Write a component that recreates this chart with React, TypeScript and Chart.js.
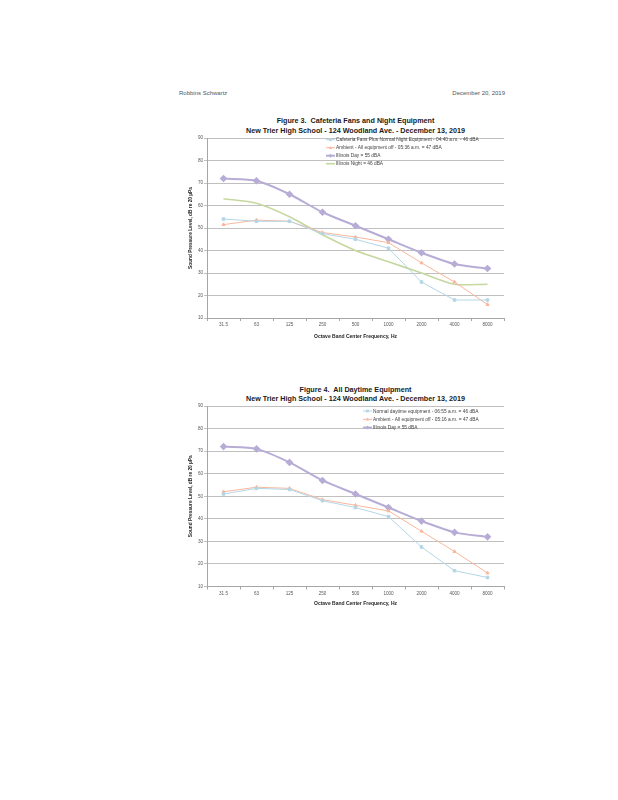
import React, { useEffect, useRef } from "react";
import { Chart, registerables } from "chart.js";

Chart.register(...registerables);

const categories = ["31.5", "63", "125", "250", "500", "1000", "2000", "4000", "8000"];
const yTickValues = [10, 20, 30, 40, 50, 60, 70, 80, 90];

const fig3Cafeteria = [54, 53, 53, 47.5, 45, 41, 26, 18, 18];
const fig3Ambient = [51.5, 53.5, 53, 48, 46, 43.5, 34.5, 26, 16];
const fig3IllinoisDay = [72, 71, 65, 57, 51, 45, 39, 34, 32];
const fig3IllinoisNight = [63, 61, 55, 47, 40, 35, 30, 25, 25];

const fig4Normal = [51, 53.5, 53, 48, 45, 41, 27.5, 17, 14];
const fig4Ambient = [52, 54, 53.5, 48.5, 46, 43.5, 34.5, 25.5, 16];
const fig4IllinoisDay = [72, 71, 65, 57, 51, 45, 39, 34, 32];

const fig3Labels = [
  "Cafeteria Fans Plus Normal Night Equipment - 04:40 a.m. - 46 dBA",
  "Ambient - All equipment off - 05:36 a.m. = 47 dBA",
  "Illinois Day = 55 dBA",
  "Illinois Night = 46 dBA",
];
const fig4Labels = [
  "Normal daytime equipment - 06:55 a.m. = 46 dBA",
  "Ambient - All equipment off - 05:16 a.m. = 47 dBA",
  "Illinois Day = 55 dBA",
];

const BLUE = "#b3d6e6";
const ORANGE = "#f9b79c";
const PURPLE = "#b7acd6";
const GREEN = "#c5d89f";
const FONT = "'Liberation Sans', Arial, sans-serif";

function styleFor(kind: string) {
  if (kind === "blue") return { borderColor: BLUE, backgroundColor: BLUE, borderWidth: 1, pointStyle: "rect", pointRadius: 1.8, tension: 0 };
  if (kind === "orange") return { borderColor: ORANGE, backgroundColor: ORANGE, borderWidth: 1, pointStyle: "triangle", pointRadius: 1.8, tension: 0 };
  if (kind === "purple") return { borderColor: PURPLE, backgroundColor: PURPLE, borderWidth: 2, pointStyle: "rectRot", pointRadius: 2.4, tension: 0.25 };
  return { borderColor: GREEN, backgroundColor: GREEN, borderWidth: 1.6, pointStyle: false, pointRadius: 0, tension: 0.25 };
}

const insideLegend = {
  id: "insideLegend",
  afterDraw(chart: any, _args: any, opts: any) {
    const ctx = chart.ctx;
    ctx.save();
    chart.data.datasets.forEach((ds: any, i: number) => {
      const y = opts.y + i * opts.row;
      const x = opts.x;
      ctx.strokeStyle = ds.borderColor;
      ctx.lineWidth = Math.min(ds.borderWidth, 2);
      ctx.beginPath();
      ctx.moveTo(x, y);
      ctx.lineTo(x + 9, y);
      ctx.stroke();
      const cx = x + 4.5;
      ctx.fillStyle = ds.borderColor;
      if (ds.pointStyle === "rect") {
        ctx.fillRect(cx - 1.4, y - 1.4, 2.8, 2.8);
      } else if (ds.pointStyle === "rectRot") {
        ctx.beginPath();
        ctx.moveTo(cx, y - 2);
        ctx.lineTo(cx + 2, y);
        ctx.lineTo(cx, y + 2);
        ctx.lineTo(cx - 2, y);
        ctx.closePath();
        ctx.fill();
      } else if (ds.pointStyle === "triangle") {
        ctx.beginPath();
        ctx.moveTo(cx, y - 1.7);
        ctx.lineTo(cx + 1.7, y + 1.3);
        ctx.lineTo(cx - 1.7, y + 1.3);
        ctx.closePath();
        ctx.fill();
      }
      ctx.fillStyle = "#404040";
      ctx.font = `4.8px ${FONT}`;
      ctx.textBaseline = "middle";
      ctx.textAlign = "left";
      ctx.fillText(ds.label, x + 10, y + 0.3);
    });
    ctx.restore();
  },
};

type Series = { label: string; data: number[]; kind: string };

function LineChart(props: { series: Series[]; width: number; height: number; padTop: number; xHeight: number; legend: { x: number; y: number; row: number } }) {
  const ref = useRef<HTMLCanvasElement | null>(null);
  useEffect(() => {
    if (!ref.current) return;
    const chart = new Chart(ref.current, {
      type: "line",
      data: {
        labels: categories,
        datasets: props.series.map((s) => ({ label: s.label, data: s.data, ...styleFor(s.kind) })) as any,
      },
      plugins: [insideLegend as any],
      options: {
        animation: false,
        responsive: false,
        maintainAspectRatio: false,
        layout: { padding: { top: props.padTop, right: 5, left: 0, bottom: 0 } },
        plugins: {
          legend: { display: false },
          tooltip: { enabled: false },
          insideLegend: props.legend,
        } as any,
        scales: {
          x: {
            type: "category",
            offset: true,
            grid: { display: true, drawOnChartArea: false, offset: true, tickLength: 3, color: "#a6a6a6" },
            border: { display: true, color: "#a6a6a6" },
            ticks: { font: { family: FONT, size: 4.6 }, color: "#595959", padding: 1, maxRotation: 0, autoSkip: false },
            title: { display: true, text: "Octave Band Center Frequency, Hz", font: { family: FONT, size: 5, weight: "bold" }, color: "#262626", padding: { top: 1, bottom: 0 } },
            afterFit: (s: any) => { s.height = props.xHeight; },
          },
          y: {
            min: 10,
            max: 90,
            afterBuildTicks: (s: any) => { s.ticks = yTickValues.map((v) => ({ value: v })); },
            grid: { color: "#c0c0c0", tickLength: 3, lineWidth: 1 },
            border: { display: true, color: "#a6a6a6" },
            ticks: { font: { family: FONT, size: 4.6 }, color: "#595959", padding: 1 },
            title: { display: true, text: "Sound Pressure Level, dB re 20 µPa", font: { family: FONT, size: 4.8, weight: "bold" }, color: "#262626", padding: { top: 5, bottom: 0 } },
            afterFit: (s: any) => { s.width = 24; },
          },
        },
      } as any,
    });
    return () => chart.destroy();
  }, []);
  return <canvas ref={ref} width={props.width} height={props.height} style={{ width: props.width, height: props.height, display: "block" }} />;
}

const titleStyle: React.CSSProperties = {
  position: "absolute",
  left: 192,
  width: 327,
  textAlign: "center",
  fontFamily: FONT,
  fontWeight: "bold",
  fontSize: 7.2,
  color: "#1a1a1a",
  lineHeight: "9.5px",
  whiteSpace: "nowrap",
};

export default function App() {
  const fig3: Series[] = [
    { label: fig3Labels[0], data: fig3Cafeteria, kind: "blue" },
    { label: fig3Labels[1], data: fig3Ambient, kind: "orange" },
    { label: fig3Labels[2], data: fig3IllinoisDay, kind: "purple" },
    { label: fig3Labels[3], data: fig3IllinoisNight, kind: "green" },
  ];
  const fig4: Series[] = [
    { label: fig4Labels[0], data: fig4Normal, kind: "blue" },
    { label: fig4Labels[1], data: fig4Ambient, kind: "orange" },
    { label: fig4Labels[2], data: fig4IllinoisDay, kind: "purple" },
  ];
  return (
    <div style={{ position: "absolute", left: 0, top: 0, width: 618, height: 800, background: "#fff", overflow: "hidden" }}>
      <div style={{ position: "absolute", left: 179, top: 90, fontFamily: FONT, fontSize: 6, color: "#555" }}>Robbins Schwartz</div>
      <div style={{ position: "absolute", right: 113, top: 90, fontFamily: FONT, fontSize: 6, color: "#555" }}>December 20, 2019</div>

      <div style={{ ...titleStyle, top: 116 }}>
        Figure 3.&nbsp; Cafeteria Fans and Night Equipment
        <br />
        New Trier High School - 124 Woodland Ave. - December 13, 2019
      </div>
      <div style={{ position: "absolute", left: 183, top: 132 }}>
        <LineChart series={fig3} width={327} height={208} padTop={2} xHeight={22} legend={{ x: 143, y: 7.7, row: 8 }} />
      </div>

      <div style={{ ...titleStyle, top: 384.5 }}>
        Figure 4.&nbsp; All Daytime Equipment
        <br />
        New Trier High School - 124 Woodland Ave. - December 13, 2019
      </div>
      <div style={{ position: "absolute", left: 183, top: 400 }}>
        <LineChart series={fig4} width={327} height={207} padTop={4} xHeight={20.5} legend={{ x: 180, y: 11, row: 8.3 }} />
      </div>
    </div>
  );
}
